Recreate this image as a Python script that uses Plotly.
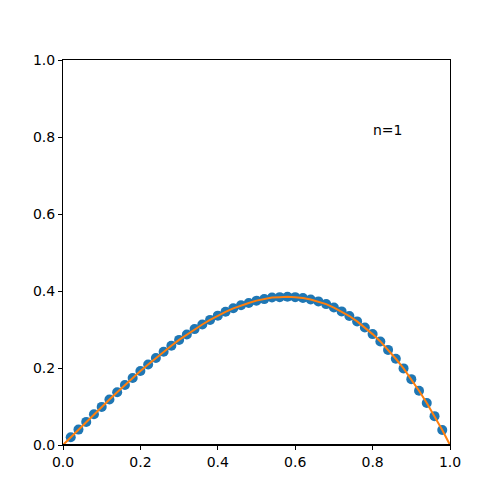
import plotly.graph_objects as go

point_x = [0.02, 0.04, 0.06, 0.08, 0.10, 0.12, 0.14, 0.16, 0.18, 0.20,
           0.22, 0.24, 0.26, 0.28, 0.30, 0.32, 0.34, 0.36, 0.38, 0.40,
           0.42, 0.44, 0.46, 0.48, 0.50, 0.52, 0.54, 0.56, 0.58, 0.60,
           0.62, 0.64, 0.66, 0.68, 0.70, 0.72, 0.74, 0.76, 0.78, 0.80,
           0.82, 0.84, 0.86, 0.88, 0.90, 0.92, 0.94, 0.96, 0.98]
point_y = [0.020, 0.040, 0.060, 0.080, 0.099, 0.118, 0.137, 0.156, 0.174, 0.192,
           0.209, 0.226, 0.242, 0.258, 0.273, 0.287, 0.301, 0.313, 0.325, 0.336,
           0.346, 0.355, 0.363, 0.369, 0.375, 0.379, 0.383, 0.384, 0.385, 0.384,
           0.382, 0.378, 0.373, 0.366, 0.357, 0.347, 0.335, 0.321, 0.305, 0.288,
           0.269, 0.247, 0.224, 0.199, 0.171, 0.141, 0.109, 0.075, 0.039]

line_x = [0.0] + point_x + [1.0]
line_y = [0.0] + point_y + [0.0]

tick_vals = [0.0, 0.2, 0.4, 0.6, 0.8, 1.0]
tick_text = ["0.0", "0.2", "0.4", "0.6", "0.8", "1.0"]
label_text = "n=1"

fig = go.Figure()
fig.add_trace(go.Scatter(x=point_x, y=point_y, mode="markers",
                         marker=dict(color="#1f77b4", size=10, line=dict(width=0)),
                         cliponaxis=True, showlegend=False))
fig.add_trace(go.Scatter(x=line_x, y=line_y, mode="lines",
                         line=dict(color="#ff7f0e", width=2),
                         showlegend=False))

axis_common = dict(range=[0, 1], tickvals=tick_vals, ticktext=tick_text,
                   ticks="outside", ticklen=4, tickwidth=1, tickcolor="black",
                   showline=True, linecolor="black", linewidth=1, mirror=True,
                   showgrid=False, zeroline=False,
                   tickfont=dict(family="DejaVu Sans", size=14, color="black"))

fig.update_layout(
    width=500, height=500,
    margin=dict(l=55, r=58, t=52, b=63),
    plot_bgcolor="white", paper_bgcolor="white",
    xaxis=axis_common, yaxis=axis_common,
    shapes=[dict(type="line", xref="x", yref="y", x0=0, x1=1, y0=0, y1=0,
                 line=dict(color="black", width=2))],
    annotations=[dict(x=0.8, y=0.8, xref="x", yref="y", text=label_text,
                      showarrow=False, xanchor="left", yanchor="bottom",
                      xshift=-2, yshift=-3,
                      font=dict(family="DejaVu Sans", size=14, color="black"))],
)

fig.write_html("out.html")
